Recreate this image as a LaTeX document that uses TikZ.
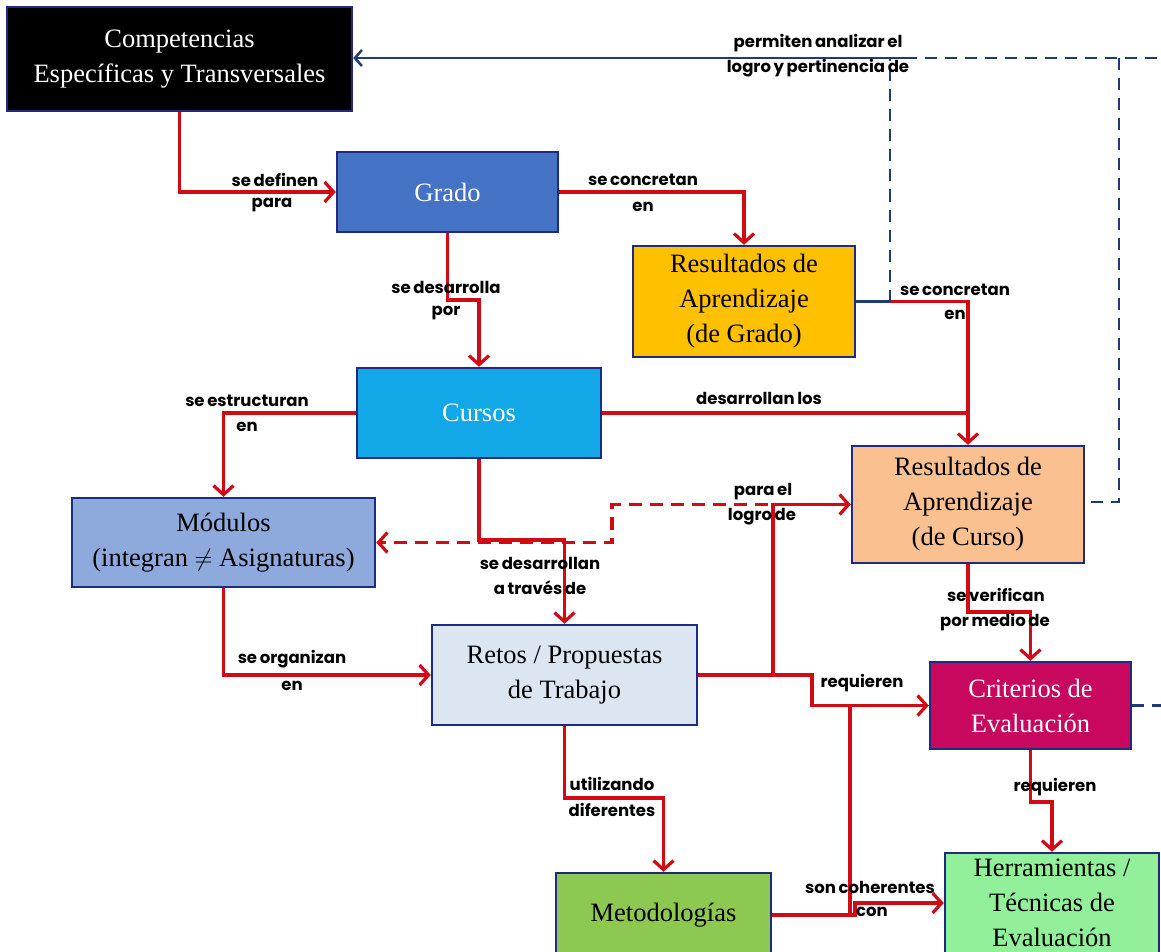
\documentclass[tikz,border=0pt]{standalone}
\usepackage{fontspec}
\setmainfont{Liberation Serif}
\newfontfamily\labfont[WordSpace=0.75]{Poppins}
\usetikzlibrary{arrows.meta}
\definecolor{navy}{HTML}{1F2A80}
\definecolor{bluel}{HTML}{1F3A78}
\definecolor{redc}{HTML}{D20A14}
\definecolor{cgrado}{HTML}{4472C4}
\definecolor{crag}{HTML}{FFC000}
\definecolor{ccursos}{HTML}{12A8E8}
\definecolor{cmod}{HTML}{8EA9DB}
\definecolor{crac}{HTML}{FAC090}
\definecolor{cretos}{HTML}{DCE6F2}
\definecolor{ccrit}{HTML}{C8075F}
\definecolor{cmet}{HTML}{8DC850}
\definecolor{cherr}{HTML}{93F09A}
\tikzset{
  box/.style={draw=navy, line width=2.5pt, align=center, inner sep=0pt,
    font=\fontsize{26.5}{35}\selectfont},
  lbl/.style={font=\labfont\bfseries\fontsize{16.5}{18}\selectfont, inner sep=0pt},
  rl/.style={draw=redc, line width=3.2pt},
  ra/.style={rl, -{Straight Barb[length=9pt,width=20pt]}},
  bl/.style={draw=bluel, line width=2.5pt},
  bdash/.style={bl, dash pattern=on 12pt off 8pt},
}
\begin{document}
\begin{tikzpicture}[x=1pt,y=-1pt]
\useasboundingbox (0,0) rectangle (1161,952);
\fill[white] (0,0) rectangle (1161,952);
\clip (0,0) rectangle (1161,952);

% nodes
\node[box, fill=black, text=white, minimum width=345pt, minimum height=104pt] (comp) at (179.5,59) {Competencias\\Específicas y Transversales};
\node[box, fill=cgrado, text=white, minimum width=221pt, minimum height=80pt] (grado) at (447.5,192) {Grado};
\node[box, fill=crag, minimum width=222pt, minimum height=111pt] (rag) at (744,301.5) {Resultados de\\Aprendizaje\\(de Grado)};
\node[box, fill=ccursos, text=white, minimum width=244pt, minimum height=90pt] (cursos) at (479,413) {Cursos};
\node[box, fill=cmod, minimum width=303pt, minimum height=89pt] (mod) at (223.5,542.5) {Módulos\\(integran $\neq$ Asignaturas)};
\node[box, fill=crac, minimum width=232pt, minimum height=117pt] (rac) at (968,504.5) {Resultados de\\Aprendizaje\\(de Curso)};
\node[box, fill=cretos, minimum width=265pt, minimum height=100pt] (retos) at (564.5,675) {Retos / Propuestas\\de Trabajo};
\node[box, fill=ccrit, text=white, minimum width=201pt, minimum height=87pt] (crit) at (1030.5,705.5) {Criterios de\\Evaluación};
\node[box, fill=cmet, minimum width=215pt, minimum height=84pt] (met) at (663.5,915) {Metodologías};
\node[box, fill=cherr, minimum width=214pt, minimum height=100pt] (herr) at (1052,903) {Herramientas /\\Técnicas de\\Evaluación};

% blue feedback lines
\draw[bl, -{Straight Barb[length=7pt,width=16pt]}] (905,58) -- (comp.east |- 0,58);
\draw[bdash] (905,58) -- (1175,58);
\draw[bdash] (1119,58) -- (1119,502) -- (rac.east |- 0,502);
\draw[bdash] (crit.east) -- (1175,705.5);

% red connectors
\draw[ra] (comp.south) |- (grado.west);
\draw[ra] (grado.south) -- (447.5,300) -| (cursos.north);
\draw[ra] (grado.east) -| (rag.north);
\draw[ra] (rag.east) -| (rac.north);
\draw[rl] (cursos.east) -- (cursos.east -| rac.north);
\draw[ra] (cursos.west) -| (mod.north);
\draw[ra] (cursos.south) -- (479,540) -| (retos.north);
\draw[ra] (mod.south) |- (retos.west);
\draw[ra] (retos.east) -- (773,675) -- (773,504.5) -- (rac.west);
\draw[ra] (retos.east) -- (812,675) -- (812,705.5) -- (crit.west);
\draw[ra, dash pattern=on 13pt off 8pt] (768,504.5) -- (612,504.5) -- (612,542.5) -- (mod.east);
\draw[rl] (850,705.5) -- (850,915);
\draw[ra] (met.east) -- (855,915) |- (herr.west);
\draw[ra] (retos.south) -- (564.5,798) -| (met.north);
\draw[ra] (rac.south) -- (968,612) -| (crit.north);
\draw[ra] (crit.south) -- (1030.5,802) -| (herr.north);

% blue on top of the shared stretch
\draw[bl] (rag.east) -- (890,301.5);
\draw[bdash] (890,301.5) -- (890,58);

% labels
\node[lbl] (l1a) at (275,180) {se definen};
\node[lbl] (l1b) at (272,205) {para};
\node[lbl] (l2a) at (446,287) {se desarrolla};
\node[lbl] (l2b) at (446,313) {por};
\node[lbl] (l3a) at (643,180) {se concretan};
\node[lbl] (l3b) at (643,207) {en};
\node[lbl] (l4a) at (955,290) {se concretan};
\node[lbl] (l4b) at (955,315) {en};
\node[lbl] (l5) at (759,398) {desarrollan los};
\node[lbl] (l6a) at (247,401) {se estructuran};
\node[lbl] (l6b) at (247,427) {en};
\node[lbl] (l7a) at (540,563) {se desarrollan};
\node[lbl] (l7b) at (540,588) {a través de};
\node[lbl] (l8a) at (292,659) {se organizan};
\node[lbl] (l8b) at (292,686) {en};
\node[lbl] (l9a) at (763,492) {para el};
\node[lbl] (l9b) at (762,517) {logro de};
\node[lbl] (l10) at (862,683) {requieren};
\node[lbl] (l11a) at (870,887) {son coherentes};
\node[lbl] (l11b) at (872,912) {con};
\node[lbl] (l12a) at (612,784) {utilizando};
\node[lbl] (l12b) at (612,810) {diferentes};
\node[lbl] (l13a) at (996,595) {se verifican};
\node[lbl] (l13b) at (995,622) {por medio de};
\node[lbl] (l14) at (1055,787) {requieren};
\node[lbl] (l15a) at (818,43) {permiten analizar el};
\node[lbl] (l15b) at (818,68) {logro y pertinencia de};
\end{tikzpicture}
\end{document}
